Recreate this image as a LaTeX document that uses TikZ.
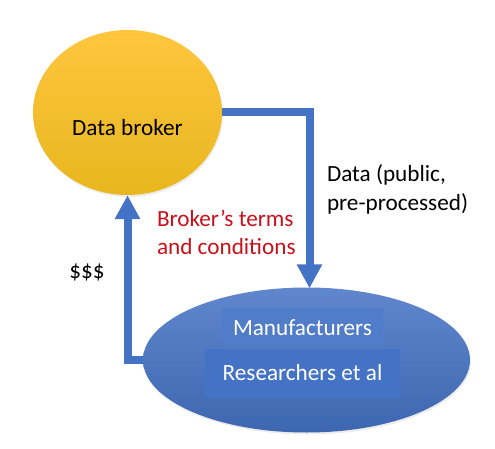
\documentclass[tikz,border=0pt]{standalone}
\usepackage{fontspec}
\setmainfont{Carlito}
\usetikzlibrary{positioning, calc, arrows.meta, shapes.geometric, shadows}

\definecolor{officeblue}{HTML}{4472C4}
\definecolor{brokerred}{HTML}{C8101A}
\definecolor{goldtop}{HTML}{FFC63E}
\definecolor{goldmid}{HTML}{FCC214}
\definecolor{goldbot}{HTML}{E8B61E}

\tikzset{
    flow/.style={line width=8pt, draw=officeblue, -{Triangle[width=24pt, length=24pt]}},
    lbl/.style={font=\fontsize{23.2}{28.5}\selectfont, inner sep=0, outer sep=0},
    userbox/.style={lbl, fill=officeblue, text=white}
}

\begin{document}
\begin{tikzpicture}[x=1pt, y=-1pt]
        \useasboundingbox (0,0) rectangle (495,449);

        \node[ellipse, minimum width=189pt, minimum height=165pt, inner sep=0,
              top color=goldtop, middle color=goldmid, bottom color=goldbot,
              drop shadow={opacity=0.15, shadow xshift=1pt, shadow yshift=-2pt}] (broker) at (127.5,112.5) {};
        \node[lbl] (brokertext) at (127.5,128) {Data broker};

        \node[ellipse, minimum width=327pt, minimum height=145pt, inner sep=0,
              top color=officeblue!85!white, bottom color=officeblue!90!black,
              drop shadow={opacity=0.15, shadow xshift=1pt, shadow yshift=-2pt}] (users) at (306.5,360) {};
        \node[userbox, fill=officeblue!93!white, minimum width=161pt, minimum height=39pt] (manu) at (302.5,327.5) {Manufacturers};
        \node[userbox, minimum width=195pt, minimum height=49pt, text depth=2pt] (research) at (302.5,373) {Researchers et al};

        \coordinate (datain) at ($(users.north)+(3,1)$);
        \draw[flow] (broker.east) -| (datain);
        \draw[flow] (users.west) -| (broker.south);

        \node[lbl, anchor=west, align=left] (data) at (327,189.5) {Data (public,\\pre-processed)};
        \node[lbl, anchor=west, align=left, text=brokerred] (terms) at (157,232.5) {Broker’s terms\\and conditions};
        \node[lbl] (money) at (87,272) {\$\$\$};
\end{tikzpicture}
\end{document}
